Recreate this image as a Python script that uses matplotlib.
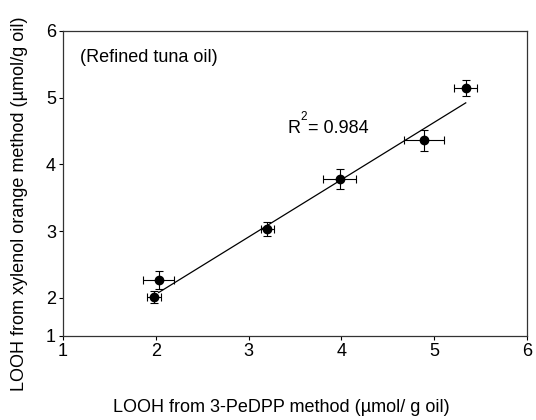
import matplotlib
matplotlib.use("Agg")
import matplotlib.pyplot as plt

plt.rcParams['font.family'] = ['Liberation Sans', 'DejaVu Sans']

# Data
pedpp_x = [1.98, 2.03, 3.20, 3.98, 4.89, 5.34]
xylenol_y = [2.02, 2.27, 3.03, 3.78, 4.36, 5.14]
x_err = [0.08, 0.17, 0.07, 0.18, 0.22, 0.125]
y_err = [0.09, 0.14, 0.10, 0.15, 0.16, 0.12]
fit_x = [2.03, 5.34]
fit_y = [2.08, 4.92]
r2_value = '= 0.984'
panel_text = '(Refined tuna oil)'
x_ticks = [1, 2, 3, 4, 5, 6]
y_ticks = [1.43, 2, 3, 4, 5, 6]
y_tick_labels = ['1', '2', '3', '4', '5', '6']

fig = plt.figure(figsize=(5.36, 4.20), dpi=100)
ax = fig.add_axes([63/536, 1 - 336/420, (527-63)/536, (336-30.7)/420])

ax.plot(fit_x, fit_y, color='black', lw=0.9, zorder=2)
ax.errorbar(pedpp_x, xylenol_y, xerr=x_err, yerr=y_err, fmt='o', color='black',
            ms=6, elinewidth=0.8, capsize=2.8, capthick=0.8, zorder=3)

ax.set_xlim(1, 6)
ax.set_ylim(1.43, 6)
ax.set_xticks(x_ticks)
ax.set_xticklabels([str(t) for t in x_ticks])
ax.set_yticks(y_ticks)
ax.set_yticklabels(y_tick_labels)
ax.tick_params(direction='out', length=3, width=0.8, labelsize=13, pad=2, colors='black')
for s in ax.spines.values():
    s.set_color('#333333')
    s.set_linewidth(0.9)

ax.text(1.183, 5.525, panel_text, fontsize=13, ha='left', va='baseline')

# R^2 label: R, raised small 2, then value
anchor = (3.42, 4.47)
ax.annotate('R', anchor, fontsize=13, ha='left', va='baseline')
ax.annotate('2', anchor, xytext=(13, 13), textcoords='offset pixels',
            fontsize=8.5, ha='left', va='baseline')
ax.annotate(r2_value, anchor, xytext=(20, 0), textcoords='offset pixels',
            fontsize=13, ha='left', va='baseline')

fig.text(281/536, (420-408)/420, 'LOOH from 3-PeDPP method (µmol/ g oil)',
         fontsize=13, ha='center', va='center')
fig.text(20/536, (420-204)/420, 'LOOH from xylenol orange method (µmol/g oil)',
         fontsize=13, ha='center', va='center', rotation=90)

fig.savefig('out.png', dpi=100)
